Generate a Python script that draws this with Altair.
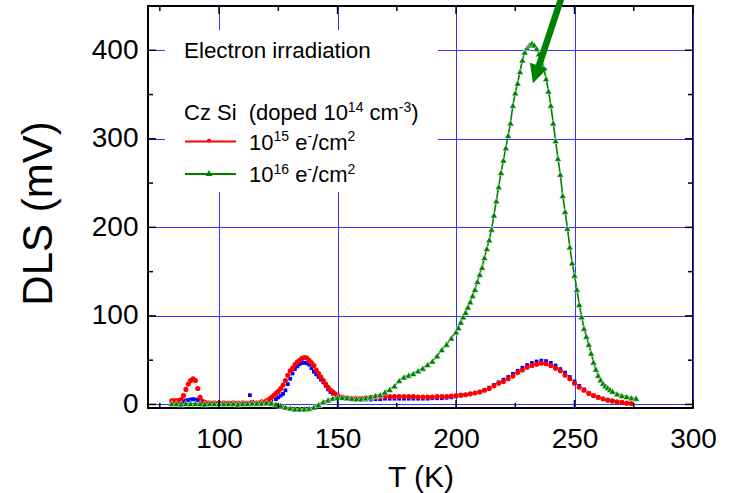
import altair as alt
import pandas as pd

# ---------------- data ----------------
T_blue = [80, 82, 84, 85, 86, 87, 88, 89, 90, 91, 92, 93, 94, 96, 98, 100, 102, 104, 106, 108,
          110, 112, 113, 114, 116, 118, 120, 122, 124, 125, 126, 127, 128, 129, 130, 131, 132, 133,
          134, 135, 136, 137, 138, 139, 140, 141, 142, 143, 144, 145, 146, 147, 148, 150, 152, 154,
          156, 158, 160, 162, 164, 166, 168, 170, 172, 174, 176, 178, 180, 182, 184, 186, 188, 190,
          192, 194, 196, 198, 200, 202, 204, 206, 208, 210, 212, 214, 216, 218, 220, 222, 224, 226,
          228, 230, 232, 234, 236, 238, 240, 242, 244, 246, 248, 250, 252, 254, 256, 258, 260, 262,
          264, 266, 268, 270, 272, 274]
V_blue = [2, 2, 2.5, 3.5, 4.5, 5, 5.5, 6, 5.5, 5, 4, 2.5, 2, 1.5, 1.5, 1.5, 1.5, 1.5, 1.5, 1.5,
          1.5, 1.5, 10.5, 3, 1.5, 1.5, 2, 3.5, 6, 8, 10, 12, 16, 23, 29, 35, 40, 43,
          45.5, 47, 47, 46.5, 45, 41, 37, 34, 31, 28, 25, 21, 17, 14, 12, 9, 7.5, 7,
          6.5, 6, 5.5, 5.5, 5.5, 6, 6, 6.5, 6.5, 6.5, 6.5, 6.5, 6.5, 6.5, 6.5, 6.5, 6.5, 7,
          7, 7, 7.5, 8, 9, 10, 11, 12, 13, 14.5, 16.5, 19, 22, 25, 28, 31, 34.5, 38,
          41.5, 44.5, 47, 48.5, 49.5, 49, 47, 44, 40, 36, 31, 26, 21, 17, 13, 10, 8, 6,
          4.5, 3.5, 2.5, 2, 1.5, 1]

T_red = [80, 81, 82, 83, 84, 85, 86, 87, 88, 89, 90, 91, 92, 93, 94, 96, 98, 100, 102, 104,
         106, 108, 110, 112, 114, 116, 118, 120, 121, 122, 123, 124, 125, 126, 127, 128, 129, 130,
         131, 132, 133, 134, 135, 136, 137, 138, 139, 140, 141, 142, 143, 144, 145, 146, 147, 148,
         149, 150, 152, 154, 156, 158, 160, 162, 164, 166, 168, 170, 172, 174, 176, 178, 180, 182,
         184, 186, 188, 190, 192, 194, 196, 198, 200, 202, 204, 206, 208, 210, 212, 214, 216, 218,
         220, 222, 224, 226, 228, 230, 232, 234, 236, 238, 240, 242, 244, 246, 248, 250, 252, 254,
         256, 258, 260, 262, 264, 266, 268, 270, 272, 274]
V_red = [4, 4, 4, 4.5, 5.5, 10, 17, 23, 27, 29, 27, 18, 8, 3.5, 2.5, 2, 2, 1.5, 2, 1.5,
         2, 1.5, 2, 1.5, 2, 2, 3, 4, 5.5, 7.5, 10, 12.5, 15, 18, 22, 27, 33, 38,
         41, 45, 48, 50, 52, 53, 52.5, 50, 47, 44, 39, 35, 31, 27, 23, 19.5, 16, 14,
         12, 10, 8.5, 7.5, 7, 7, 7, 7.5, 8, 8, 8.5, 9, 9, 9, 9, 9, 9, 9,
         8.5, 8.5, 8.5, 8.5, 9, 9, 9, 9.5, 10, 10.5, 11, 12, 13, 14, 16, 18, 21, 24,
         26, 29, 32, 36, 39, 42, 44, 45.5, 46.5, 46, 44, 41, 38, 33, 29, 24, 19.5, 16,
         12.5, 10, 8, 6.5, 5, 4, 3, 2.5, 1.5, 1]

T_green = [80, 82, 84, 86, 88, 90, 92, 94, 96, 98, 100, 102, 104, 106, 108, 110, 112, 114, 116, 118,
           120, 122, 124, 126, 128, 130, 132, 134, 136, 138, 140, 142, 144, 146, 148, 150, 152, 154,
           156, 158, 160, 162, 164, 166, 168, 170, 172, 174, 176, 178, 180, 182, 184, 186, 188, 190,
           192, 194, 196, 198, 200, 201, 202, 203, 204, 205, 206, 207, 208, 209, 210, 211, 212, 213,
           214, 215, 216, 217, 218, 219, 220, 221, 222, 223, 224, 225, 226, 227, 228, 229, 230, 231,
           232, 233, 234, 235, 236, 237, 238, 239, 240, 241, 242, 243, 244, 245, 246, 247, 248, 249,
           250, 251, 252, 253, 254, 255, 256, 257, 258, 259, 260, 261, 262, 263, 264, 265, 266, 268,
           270, 272, 274, 276]
V_green = [1, 1, 0.5, 1, 1, 1, 1, 0.5, 1, 1, 1, 1, 1, 1, 0.5, 1, 1, 1.5, 1.5, 1.5,
           2, 1.5, 0.5, -1, -3, -4, -5, -5, -5, -4.5, -3, 0, 3, 5, 7, 8, 8, 7.5,
           7, 6.5, 6.5, 7.5, 8.5, 10, 11, 14, 17, 21, 27, 31, 33, 35, 38, 41, 45, 49,
           55, 62, 68, 75, 82, 87, 93, 99, 104, 110, 116, 123, 130, 139, 147, 155, 166, 176,
           186, 198, 214, 230, 246, 262, 276, 290, 304, 318, 338, 352, 363, 376, 389, 398, 403, 406,
           408, 406, 402, 396, 390, 380, 368, 354, 338, 318, 298, 278, 260, 236, 218, 199, 178, 160,
           146, 130, 113, 99, 86, 77, 68, 58, 48, 40, 33, 28, 24, 21, 19, 17, 15, 12,
           10, 9, 7.5, 7]

X_TICK_LABELS = [100, 150, 200, 250, 300]
X_MINOR = [75, 125, 175, 225, 275]
Y_TICK_LABELS = [0, 100, 200, 300, 400]
Y_MINOR = [50, 150, 250, 350]

TITLE_X = "T (K)"
TITLE_Y = "DLS (mV)"
LEGEND_HEAD = "Electron irradiation"

# ---------------- layout ----------------
FONT = "Liberation Sans, Arial, sans-serif"
W, H = 545, 402
RED, BLUE, GREEN = "#ff0000", "#0000ff", "#008000"
GRID = "#3333ff"

xs = alt.Scale(domain=[70, 300], nice=False, zero=False)
ys = alt.Scale(domain=[-4, 450], nice=False, zero=False)

x_axis = alt.Axis(values=X_TICK_LABELS, grid=True, gridColor=GRID, gridWidth=1, ticks=False, domain=False,
                  labelFont=FONT, labelFontSize=28, labelColor="black", labelPadding=39,
                  labelBaseline="alphabetic", labelFlush=False, labelOverlap=False,
                  title=TITLE_X, titleFont=FONT, titleFontSize=30, titleFontWeight="normal",
                  titleColor="black", titleX=W / 2, titleY=78, titleBaseline="alphabetic",
                  titleAlign="center")
y_axis = alt.Axis(values=Y_TICK_LABELS, grid=True, gridColor=GRID, gridWidth=1, ticks=False, domain=False,
                  labelFont=FONT, labelFontSize=28, labelColor="black", labelPadding=10,
                  labelBaseline="middle", labelFlush=False, labelOverlap=False,
                  title=TITLE_Y, titleFont=FONT, titleFontSize=42, titleFontWeight="normal",
                  titleColor="black", titleAngle=270, titleX=-110, titleY=H / 2 + 6,
                  titleAlign="center", titleBaseline="middle")

X = alt.X("T:Q", scale=xs, axis=x_axis)
Y = alt.Y("V:Q", scale=ys, axis=y_axis)

df_blue = pd.DataFrame({"T": T_blue, "V": V_blue})
df_red = pd.DataFrame({"T": T_red, "V": V_red})
df_green = pd.DataFrame({"T": T_green, "V": V_green})
one = pd.DataFrame({"a": [0]})

layers = []
layers.append(alt.Chart(df_blue).mark_point(filled=True, shape="square", size=14, color=BLUE, opacity=1)
              .encode(x=X, y=Y))
layers.append(alt.Chart(df_red).mark_point(filled=True, shape="circle", size=26, color=RED, opacity=1)
              .encode(x=X, y=Y))
layers.append(alt.Chart(df_green).mark_line(color=GREEN, strokeWidth=1.6).encode(x=X, y=Y))
layers.append(alt.Chart(df_green).mark_point(filled=True, shape="triangle-up", size=48, color=GREEN,
                                             opacity=1, stroke="white", strokeWidth=0.5)
              .encode(x=X, y=Y))


# inward ticks on all four sides
def xticks(vals, length, bottom):
    y0, y1 = (H, H - length) if bottom else (0, length)
    return alt.Chart(pd.DataFrame({"T": vals})).mark_rule(color="black", strokeWidth=1.5).encode(
        x=X, y=alt.value(y0), y2=alt.value(y1))


def yticks(vals, length, left):
    x0, x1 = (0, length) if left else (W, W - length)
    return alt.Chart(pd.DataFrame({"V": vals})).mark_rule(color="black", strokeWidth=1.5).encode(
        y=Y, x=alt.value(x0), x2=alt.value(x1))


for b in (True, False):
    layers.append(xticks(X_TICK_LABELS, 8, b))
    layers.append(xticks(X_MINOR, 5, b))
    layers.append(yticks(Y_TICK_LABELS, 8, b))
    layers.append(yticks(Y_MINOR, 5, b))

# legend box (white, hides grid)
layers.append(alt.Chart(one).mark_rect(fill="white").encode(
    x=alt.value(17), x2=alt.value(290), y=alt.value(24), y2=alt.value(186)))

# Arial / Liberation Sans advance widths (em)
AW = {"0": .556, "1": .556, "2": .556, "3": .556, "4": .556, "5": .556, "6": .556, "7": .556,
      "8": .556, "9": .556, " ": .278, "e": .556, "/": .278, "c": .5, "m": .833, "-": .333,
      "C": .722, "z": .5, "S": .667, "i": .222, "(": .333, ")": .333, "d": .556, "o": .556,
      "p": .556}


def rich(x0, yb, parts, size=22, sup_size=14, rise=8.5):
    out = []
    x = x0
    for txt, sup in parts:
        fs = sup_size if sup else size
        lead = len(txt) - len(txt.lstrip(" "))
        x += lead * AW[" "] * fs
        body = txt.lstrip(" ")
        out.append(alt.Chart(one).mark_text(align="left", baseline="alphabetic", font=FONT, fontSize=fs,
                                            color="black").encode(
            x=alt.value(x), y=alt.value(yb - (rise if sup else 0)), text=alt.value(body)))
        x += sum(AW.get(c, .556) for c in body) * fs
    return out


layers += rich(36, 52, [(LEGEND_HEAD, False)], size=22.4)
layers += rich(36, 114, [("Cz Si", False), ("  (doped 10", False), ("14", True), (" cm", False),
                         ("-3", True), (")", False)])

ROW1, ROW2 = 135.5, 168
layers.append(alt.Chart(one).mark_rule(color=RED, strokeWidth=2).encode(
    x=alt.value(37), x2=alt.value(88), y=alt.value(ROW1)))
layers.append(alt.Chart(one).mark_point(filled=True, shape="circle", size=16, color=RED, opacity=1).encode(
    x=alt.value(61), y=alt.value(ROW1 - 1)))
layers.append(alt.Chart(one).mark_rule(color=GREEN, strokeWidth=2).encode(
    x=alt.value(37), x2=alt.value(88), y=alt.value(ROW2)))
layers.append(alt.Chart(one).mark_point(filled=True, shape="triangle-up", size=50, color=GREEN, opacity=1).encode(
    x=alt.value(61), y=alt.value(ROW2 - 1)))
for row, p in ((ROW1, "15"), (ROW2, "16")):
    layers += rich(101, row + 8, [("10", False), (p, True), (" e", False), ("-", True), ("/cm", False),
                                  ("2", True)])

# arrow annotation
layers.append(alt.Chart(one).mark_rule(color=GREEN, strokeWidth=6.5, strokeCap="butt").encode(
    x=alt.value(417), y=alt.value(-19), x2=alt.value(390.5), y2=alt.value(61)))
layers.append(alt.Chart(one).mark_point(filled=True, shape="M-1,-1L1,-1L0,1Z", size=340, angle=18,
                                        color=GREEN, opacity=1).encode(
    x=alt.value(387.8), y=alt.value(68.4)))

chart = alt.layer(*layers).properties(
    width=W, height=H,
    autosize=alt.AutoSizeParams(type="none"),
    padding={"left": 148, "top": 6, "right": 42, "bottom": 85},
    background="white",
).configure_view(stroke="black", strokeWidth=2)

chart.save("out.html", embed_options={"renderer": "svg", "actions": False})
